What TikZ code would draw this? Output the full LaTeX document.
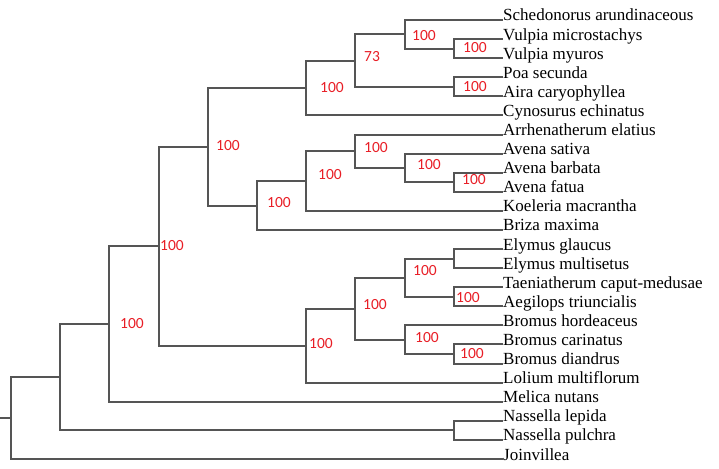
\documentclass[tikz,border=0pt]{standalone}
\usepackage{fontspec}
\setmainfont{Liberation Serif}
\newfontfamily\bootfont{Carlito}
\definecolor{branch}{RGB}{85,85,85}
\definecolor{bootred}{RGB}{232,30,38}
\begin{document}
\begin{tikzpicture}[x=1pt,y=-1pt,
  br/.style={draw=branch,line width=2pt},
  leaf/.style={anchor=base west,inner sep=0pt,font=\fontsize{17}{17}\selectfont},
  boot/.style={anchor=west,inner sep=0pt,text=bootred,font=\bootfont\fontsize{15.5}{15.5}\selectfont}]
\useasboundingbox (0,0) rectangle (719,468);
% leaf tips
\foreach \i/\t in {0/Schedonorus arundinaceous,1/Vulpia microstachys,2/Vulpia myuros,3/Poa secunda,4/Aira caryophyllea,5/Cynosurus echinatus,6/Arrhenatherum elatius,7/Avena sativa,8/Avena barbata,9/Avena fatua,10/Koeleria macrantha,11/Briza maxima,12/Elymus glaucus,13/Elymus multisetus,14/Taeniatherum caput-medusae,15/Aegilops triuncialis,16/Bromus hordeaceus,17/Bromus carinatus,18/Bromus diandrus,19/Lolium multiflorum,20/Melica nutans,21/Nassella lepida,22/Nassella pulchra,23/Joinvillea}{
  \coordinate (l\i) at (503,{20+19.087*\i});
  \node[leaf] (t\i) at ([yshift=-1pt]l\i) {\t};
}
% internal nodes
\coordinate (I) at (453.8,48.6);
\coordinate (H) at (453.8,86.8);
\coordinate (G) at (404.6,34.3);
\coordinate (F) at (355.4,60.6);
\coordinate (E) at (306.2,88.0);
\coordinate (N) at (453.8,182.3);
\coordinate (M) at (404.6,167.9);
\coordinate (L) at (355.4,151.2);
\coordinate (K) at (306.2,181.1);
\coordinate (J) at (257.0,205.5);
\coordinate (D) at (207.8,146.8);
\coordinate (R) at (453.8,258.6);
\coordinate (S) at (453.8,296.8);
\coordinate (Q) at (404.6,277.7);
\coordinate (U) at (453.8,354.1);
\coordinate (T) at (404.6,339.7);
\coordinate (P) at (355.4,308.7);
\coordinate (O) at (306.2,345.7);
\coordinate (C) at (158.6,246.3);
\coordinate (B) at (109.4,324.0);
\coordinate (V) at (453.8,430.4);
\coordinate (A) at (60.2,377.2);
\coordinate (Root) at (11,418.1);
\coordinate (stub) at (0,418.1);
% branches
\foreach \p/\c in {I/l1,I/l2,H/l3,H/l4,G/l0,G/I,F/G,F/H,E/F,E/l5,
  N/l8,N/l9,M/l7,M/N,L/l6,L/M,K/L,K/l10,J/K,J/l11,D/E,D/J,
  R/l12,R/l13,S/l14,S/l15,Q/R,Q/S,U/l17,U/l18,T/l16,T/U,P/Q,P/T,O/P,O/l19,
  C/D,C/O,B/C,B/l20,V/l21,V/l22,A/B,A/V,Root/A,Root/l23}{
  \draw[br] (\p) |- (\c);
}
\draw[br] (stub) -- (Root);
% bootstrap values
\node[boot] (bB) at (120,324) {100};
\node[boot] (bC) at (160,246) {100};
\node[boot] (bD) at (216,146) {100};
\node[boot] (bE) at (320,88) {100};
\node[boot] (bF) at (364,57) {73};
\node[boot] (bG) at (412,36) {100};
\node[boot] (bI) at (463,48) {100};
\node[boot] (bH) at (463,87) {100};
\node[boot] (bJ) at (267,203) {100};
\node[boot] (bK) at (318,175) {100};
\node[boot] (bL) at (364,148) {100};
\node[boot] (bM) at (417,165) {100};
\node[boot] (bN) at (462,180) {100};
\node[boot] (bO) at (309,344) {100};
\node[boot] (bP) at (363,305) {100};
\node[boot] (bQ) at (413,271) {100};
\node[boot] (bS) at (456,298) {100};
\node[boot] (bT) at (415,338) {100};
\node[boot] (bU) at (460,354) {100};
\end{tikzpicture}
\end{document}
